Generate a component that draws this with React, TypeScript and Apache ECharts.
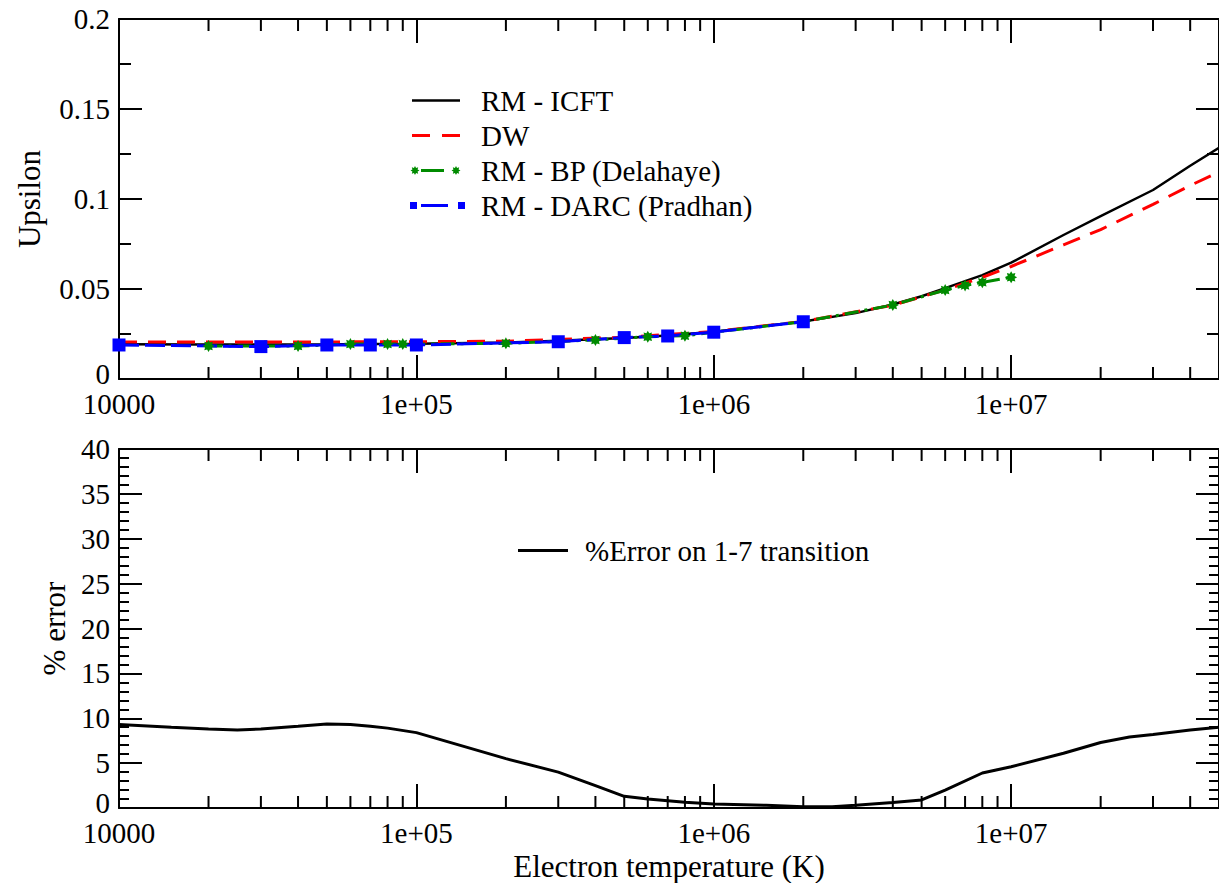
import React, { useEffect, useRef } from 'react';
import * as echarts from 'echarts';

// ---------- data ----------
const tempICFT = [1e4, 2e4, 3e4, 5e4, 7e4, 1e5, 2e5, 3e5, 5e5, 7e5, 1e6, 2e6, 3e6, 4e6, 5e6, 6e6, 8e6, 1e7, 1.5e7, 2e7, 3e7, 4e7, 5e7];
const upsICFT = [0.0193, 0.0192, 0.0192, 0.0193, 0.0194, 0.0196, 0.0203, 0.0212, 0.0228, 0.0241, 0.0262, 0.032, 0.0366, 0.0414, 0.046, 0.0505, 0.0577, 0.0646, 0.08, 0.0905, 0.105, 0.1185, 0.1285];

const tempDW = [1e4, 2e4, 5e4, 1e5, 2e5, 5e5, 1e6, 2e6, 4e6, 6e6, 8e6, 1e7, 1.5e7, 2e7, 3e7, 4e7, 5e7];
const upsDW = [0.0206, 0.0206, 0.0206, 0.0207, 0.021, 0.0232, 0.0264, 0.032, 0.041, 0.0495, 0.0565, 0.0625, 0.0745, 0.083, 0.097, 0.1075, 0.115];

const tempBP = [2e4, 4e4, 6e4, 8e4, 9e4, 2e5, 4e5, 6e5, 8e5, 1e6, 2e6, 4e6, 6e6, 7e6, 8e6, 1e7];
const upsBP = [0.0183, 0.0183, 0.0194, 0.0194, 0.0194, 0.0198, 0.0217, 0.0235, 0.024, 0.026, 0.0318, 0.0411, 0.0494, 0.052, 0.0537, 0.0565];

const tempDARC = [1e4, 3e4, 5e4, 7e4, 1e5, 3e5, 5e5, 7e5, 1e6, 2e6];
const upsDARC = [0.0189, 0.018, 0.0189, 0.0189, 0.0189, 0.0207, 0.023, 0.0239, 0.026, 0.0318];

const tempErr = [1e4, 1.5e4, 2e4, 2.5e4, 3e4, 4e4, 5e4, 6e4, 7e4, 8e4, 1e5, 2e5, 3e5, 4e5, 5e5, 6e5, 8e5, 1e6, 1.5e6, 2e6, 2.5e6, 3e6, 4e6, 5e6, 6e6, 8e6, 1e7, 1.5e7, 2e7, 2.5e7, 3e7, 4e7, 5e7];
const errVals = [9.3, 9.0, 8.8, 8.7, 8.8, 9.1, 9.35, 9.3, 9.1, 8.9, 8.4, 5.5, 4.0, 2.5, 1.3, 1.0, 0.65, 0.45, 0.3, 0.15, 0.15, 0.3, 0.6, 0.9, 2.0, 3.9, 4.6, 6.1, 7.3, 7.9, 8.2, 8.7, 9.0];

const minorTickTemps = [2e4, 3e4, 4e4, 5e4, 6e4, 7e4, 8e4, 9e4, 2e5, 3e5, 4e5, 5e5, 6e5, 7e5, 8e5, 9e5, 2e6, 3e6, 4e6, 5e6, 6e6, 7e6, 8e6, 9e6, 2e7, 3e7, 4e7];

const seriesNames = ['RM - ICFT', 'DW', 'RM - BP (Delahaye)', 'RM - DARC (Pradhan)'];
const errName = '%Error on 1-7 transition';
const xTitle = 'Electron temperature (K)';
const yTitleTop = 'Upsilon';
const yTitleBottom = '% error';

// ---------- styling helpers ----------
const FONT = 'Liberation Serif';
const BLACK = '#000000';
const RED = '#ff0000';
const GREEN = '#008b00';
const BLUE = '#0000ff';
const TICK_FS = 29;

function starPath(cx: number, cy: number, r: number, inner = 0.62) {
  let d = '';
  for (let k = 0; k < 16; k++) {
    const a = (k * Math.PI) / 8;
    const rr = k % 2 === 0 ? r : r * inner;
    const x = cx + rr * Math.cos(a);
    const y = cy + rr * Math.sin(a);
    d += (k === 0 ? 'M' : 'L') + x.toFixed(3) + ',' + y.toFixed(3) + ' ';
  }
  return d + 'Z ';
}
const rectP = (x: number, y: number, w: number, h: number) =>
  `M${x},${y} L${x + w},${y} L${x + w},${y + h} L${x},${y + h} Z `;

const IW = 66;
const IH = 16;
const corners = (w: number, h: number) => `M0,0 L0.02,0 L0,0.02 Z M${w},${h} L${w - 0.02},${h} L${w},${h - 0.02} Z `;

const iconICFT = 'path://' + corners(IW, IH) + rectP(2, 6.75, 48, 2.5);
const iconDW = 'path://' + corners(IW, IH) + rectP(2, 6.5, 18, 3) + rectP(32, 6.5, 18, 3);
const iconBP = 'path://' + corners(IW, IH) + starPath(5, 8, 4.5) + rectP(11, 6.5, 23, 3) + starPath(46, 8, 4.5);
const iconDARC = 'path://' + corners(IW, IH) + rectP(0, 4.5, 7, 7) + rectP(11, 6.5, 27, 3) + rectP(48, 4.5, 7, 7);
const iconErr = 'path://' + corners(62, IH) + rectP(0, 6.5, 50, 3);

const starSymbol = 'path://' + starPath(0, 0, 1);

const fmtLog = (v: number) => {
  const e = Math.round(Math.log10(v));
  if (e === 4) return '10000';
  return '1e+' + String(e).padStart(2, '0');
};
const fmtY = (v: number) => (v === 0 ? '{z|0}' : String(v));

function xAxisDef(gridIndex: number, position: 'top' | 'bottom', showLabel: boolean, name?: string) {
  return {
    type: 'log',
    logBase: 10,
    gridIndex,
    position,
    min: 1e4,
    max: 5e7,
    axisLine: { show: true, onZero: false, lineStyle: { color: BLACK, width: 2 } },
    axisTick: { show: true, inside: true, length: 24, lineStyle: { color: BLACK, width: 2 } },
    minorTick: { show: false },
    splitLine: { show: false },
    axisLabel: {
      show: showLabel,
      margin: 13,
      fontSize: TICK_FS,
      lineHeight: 24,
      color: BLACK,
      fontFamily: FONT,
      showMaxLabel: false,
      formatter: fmtLog,
    },
    name: name || '',
    nameLocation: 'middle',
    nameGap: 43,
    nameTextStyle: { fontSize: 31, color: BLACK, fontFamily: FONT },
  };
}

function yAxisDef(
  gridIndex: number,
  position: 'left' | 'right',
  max: number,
  interval: number,
  minorSplit: number,
  minorLen: number,
  showLabel: boolean,
  name?: string,
  nameGap?: number,
) {
  return {
    type: 'value',
    gridIndex,
    position,
    min: 0,
    max,
    interval,
    axisLine: { show: true, onZero: false, lineStyle: { color: BLACK, width: 2 } },
    axisTick: { show: true, inside: true, length: 23, lineStyle: { color: BLACK, width: 2 } },
    minorTick: { show: true, splitNumber: minorSplit, length: minorLen, lineStyle: { color: BLACK, width: 2 } },
    splitLine: { show: false },
    minorSplitLine: { show: false },
    axisLabel: {
      show: showLabel,
      margin: 9,
      fontSize: TICK_FS,
      lineHeight: 22,
      color: BLACK,
      fontFamily: FONT,
      formatter: fmtY,
      rich: {
        z: { fontSize: TICK_FS, fontFamily: FONT, color: BLACK, lineHeight: 22, padding: [0, 0, 10, 0] },
      },
    },
    name: name || '',
    nameLocation: 'middle',
    nameGap: nameGap || 0,
    nameTextStyle: { fontSize: 31, color: BLACK, fontFamily: FONT },
  };
}

function minorTickSeries(xIdx: number, yIdx: number, yMin: number, yMax: number) {
  return {
    type: 'custom',
    xAxisIndex: xIdx,
    yAxisIndex: yIdx,
    silent: true,
    z: 10,
    data: minorTickTemps.map((t) => [t, yMin]),
    encode: { x: 0, y: 1 },
    renderItem: (_params: any, api: any) => {
      const t = api.value(0);
      const p0 = api.coord([t, yMin]);
      const p1 = api.coord([t, yMax]);
      const st = { stroke: BLACK, lineWidth: 2 };
      return {
        type: 'group',
        children: [
          { type: 'line', shape: { x1: p0[0], y1: p0[1], x2: p0[0], y2: p0[1] - 12 }, style: st },
          { type: 'line', shape: { x1: p1[0], y1: p1[1], x2: p1[0], y2: p1[1] + 12 }, style: st },
        ],
      };
    },
  };
}

const zip = (xs: number[], ys: number[]) => xs.map((x, i) => [x, ys[i]]);

export default function App() {
  const ref = useRef<HTMLDivElement>(null);

  useEffect(() => {
    if (!ref.current) return;
    const chart = echarts.init(ref.current, null, { renderer: 'svg' });
    const option: any = {
      animation: false,
      backgroundColor: '#ffffff',
      textStyle: { fontFamily: FONT },
      grid: [
        { left: 119, right: -9, top: 19, height: 360 },
        { left: 119, right: -9, top: 449, height: 359 },
      ],
      xAxis: [
        xAxisDef(0, 'bottom', true),
        xAxisDef(0, 'top', false),
        xAxisDef(1, 'bottom', true, xTitle),
        xAxisDef(1, 'top', false),
      ],
      yAxis: [
        yAxisDef(0, 'left', 0.2, 0.05, 2, 12, true, yTitleTop, 74),
        yAxisDef(0, 'right', 0.2, 0.05, 2, 12, false),
        yAxisDef(1, 'left', 40, 5, 5, 10, true, yTitleBottom, 46),
        yAxisDef(1, 'right', 40, 5, 5, 10, false),
      ],
      legend: [
        {
          orient: 'vertical',
          left: 410,
          top: 86,
          padding: 0,
          itemGap: 6,
          itemWidth: IW,
          itemHeight: IH,
          selectedMode: false,
          itemStyle: { borderWidth: 0 },
          textStyle: { fontSize: 29, color: BLACK, fontFamily: FONT },
          data: [
            { name: seriesNames[0], icon: iconICFT },
            { name: seriesNames[1], icon: iconDW },
            { name: seriesNames[2], icon: iconBP },
            { name: seriesNames[3], icon: iconDARC },
          ],
        },
        {
          orient: 'vertical',
          left: 518,
          top: 536,
          padding: 0,
          itemWidth: 62,
          itemHeight: IH,
          selectedMode: false,
          itemStyle: { borderWidth: 0 },
          textStyle: { fontSize: 29, color: BLACK, fontFamily: FONT },
          data: [{ name: errName, icon: iconErr }],
        },
      ],
      series: [
        {
          name: seriesNames[0],
          type: 'line',
          xAxisIndex: 0,
          yAxisIndex: 0,
          data: zip(tempICFT, upsICFT),
          showSymbol: false,
          symbol: 'none',
          color: BLACK,
          lineStyle: { color: BLACK, width: 2.5 },
        },
        {
          name: seriesNames[1],
          type: 'line',
          xAxisIndex: 0,
          yAxisIndex: 0,
          data: zip(tempDW, upsDW),
          symbol: 'none',
          color: RED,
          lineStyle: { color: RED, width: 3, type: [18, 11] },
        },
        {
          name: seriesNames[2],
          type: 'line',
          xAxisIndex: 0,
          yAxisIndex: 0,
          data: zip(tempBP, upsBP),
          symbol: starSymbol,
          symbolSize: 12,
          color: GREEN,
          itemStyle: { color: GREEN, borderWidth: 0 },
          lineStyle: { color: GREEN, width: 3, type: [14, 6, 3, 6] },
        },
        {
          name: seriesNames[3],
          type: 'line',
          xAxisIndex: 0,
          yAxisIndex: 0,
          data: zip(tempDARC, upsDARC),
          symbol: 'rect',
          symbolSize: 13,
          color: BLUE,
          itemStyle: { color: BLUE, borderWidth: 0 },
          lineStyle: { color: BLUE, width: 3, type: [20, 6] },
        },
        {
          name: errName,
          type: 'line',
          xAxisIndex: 2,
          yAxisIndex: 2,
          data: zip(tempErr, errVals),
          symbol: 'none',
          color: BLACK,
          lineStyle: { color: BLACK, width: 3 },
        },
        minorTickSeries(0, 0, 0, 0.2),
        minorTickSeries(2, 2, 0, 40),
      ],
    };
    chart.setOption(option);
    return () => chart.dispose();
  }, []);

  return (
    <div
      ref={ref}
      style={{ position: 'absolute', left: 0, top: 0, width: 1219, height: 883, overflow: 'hidden', background: '#fff' }}
    />
  );
}
